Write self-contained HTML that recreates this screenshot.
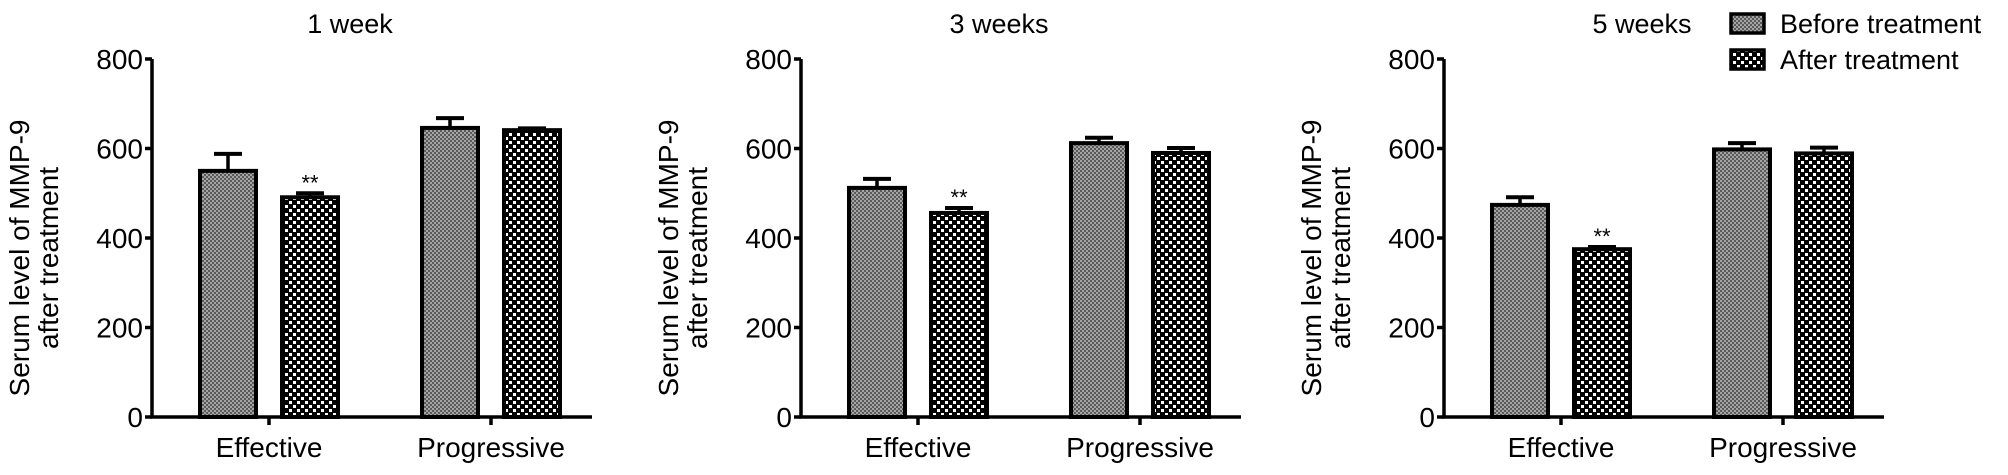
<!DOCTYPE html>
<html><head><meta charset="utf-8"><style>
html,body{margin:0;padding:0;background:#fff;}
svg{display:block;font-family:"Liberation Sans",Arial,sans-serif;}
</style></head><body>
<svg id="chart" width="2008" height="475" viewBox="0 0 2008 475" xmlns="http://www.w3.org/2000/svg">
<defs>
<pattern id="pBefore" width="4" height="4" patternUnits="userSpaceOnUse">
<rect width="4" height="4" fill="#5a5a5a"/><rect width="2" height="2" fill="#a4a4a4"/><rect x="2" y="2" width="2" height="2" fill="#a4a4a4"/>
</pattern>
<pattern id="pAfter" width="8" height="8" patternUnits="userSpaceOnUse">
<rect width="8" height="8" fill="#000"/><rect x="1" y="1" width="3" height="3" fill="#fff"/><rect x="5" y="5" width="3" height="3" fill="#fff"/>
</pattern>
</defs>
<g id="root"></g>
</svg>
<script>
const titles = ["1 week", "3 weeks", "5 weeks"];
const categories = ["Effective", "Progressive"];
const series = ["Before treatment", "After treatment"];
const beforeVals = [[550, 646], [512, 612], [474, 598]];
const beforeErr = [[38, 22], [20, 12], [17, 14]];
const afterVals = [[491, 641], [456, 590], [375, 589]];
const afterErr = [[9, 4], [11, 11], [5, 13]];
const yTicks = [0, 200, 400, 600, 800];
const sigLabels = [["**", ""], ["**", ""], ["**", ""]];

const NS = "http://www.w3.org/2000/svg";
const root = document.getElementById("root");
function mk(tag, attrs, parent) {
  const e = document.createElementNS(NS, tag);
  for (const k in attrs) e.setAttribute(k, attrs[k]);
  (parent || root).appendChild(e);
  return e;
}
const panelX = [152, 801, 1444];
const y0 = 417, yTop = 59;
function yScale(v) { return y0 - (v / 800) * (y0 - yTop); }

panelX.forEach((ax, p) => {
  const g = mk("g", {});
  
  
  const axEnd = ax + 440;
  const t = mk("text", { x: ax + 198, y: 33, "font-size": 27, "text-anchor": "middle" }, g);
  t.textContent = titles[p];
  
  
  const yl = mk("text", { transform: `translate(${ax - 123},${(y0 + yTop) / 2 + 20}) rotate(-90)`, "font-size": 28, "text-anchor": "middle" }, g);
  
  
  const t1 = mk("tspan", { x: 0, dy: 0 }, yl); t1.textContent = "Serum level of MMP-9";
  const t2 = mk("tspan", { x: 0, dy: 29 }, yl); t2.textContent = "after treatment";
  const ya = mk("line", { x1: ax, y1: yTop, x2: ax, y2: y0, stroke: "#000", "stroke-width": 3.5 }, g);
  
  
  yTicks.forEach(v => {
    mk("line", { x1: ax - 7, y1: yScale(v), x2: ax, y2: yScale(v), stroke: "#000", "stroke-width": 3.5 }, g);
    const tl = mk("text", { x: ax - 9, y: yScale(v) + 10, "font-size": 28, "text-anchor": "end" }, g);
    tl.textContent = v;
    
    
  });
  const xa = mk("line", { x1: ax - 2, y1: y0, x2: axEnd, y2: y0, stroke: "#000", "stroke-width": 3.5 }, g);
  
  
  categories.forEach((c, ci) => {
    const cx = ax + 117 + ci * 222;
    mk("line", { x1: cx, y1: y0, x2: cx, y2: y0 + 8, stroke: "#000", "stroke-width": 3.5 }, g);
    const cl = mk("text", { x: cx, y: y0 + 40, "font-size": 28, "text-anchor": "middle" }, g);
    cl.textContent = c;
    
    
    [[beforeVals, beforeErr, "url(#pBefore)", -1], [afterVals, afterErr, "url(#pAfter)", 1]].forEach(([vals, errs, fill, side], si) => {
      const v = vals[p][ci], e = errs[p][ci];
      const bx = side < 0 ? cx - 69 : cx + 13;
      const bw = 56;
      const mid = bx + bw / 2;
      mk("line", { x1: mid, y1: yScale(v), x2: mid, y2: yScale(v + e), stroke: "#000", "stroke-width": 3.5 }, g);
      mk("line", { x1: mid - 14, y1: yScale(v + e), x2: mid + 14, y2: yScale(v + e), stroke: "#000", "stroke-width": 4 }, g);
      const r = mk("rect", { x: bx, y: yScale(v), width: bw, height: y0 - yScale(v), fill: fill, stroke: "#000", "stroke-width": 4 }, g);
      
      
      if (si === 1 && sigLabels[p][ci]) {
        const s = mk("text", { x: mid, y: yScale(v + e) - 3, "font-size": 22, "text-anchor": "middle" }, g);
        s.textContent = sigLabels[p][ci];
        
        
      }
    });
  });
});
const lg = mk("g", {});


series.forEach((s, i) => {
  const yy = 14 + i * 36;
  const sw = mk("rect", { x: 1731, y: yy, width: 33, height: 19, fill: i === 0 ? "url(#pBefore)" : "url(#pAfter)", stroke: "#000", "stroke-width": 3.5 }, lg);
  
  
  const lt = mk("text", { x: 1780, y: yy + 19, "font-size": 27 }, lg);
  lt.textContent = s;
  
  
});
</script>
</body></html>
